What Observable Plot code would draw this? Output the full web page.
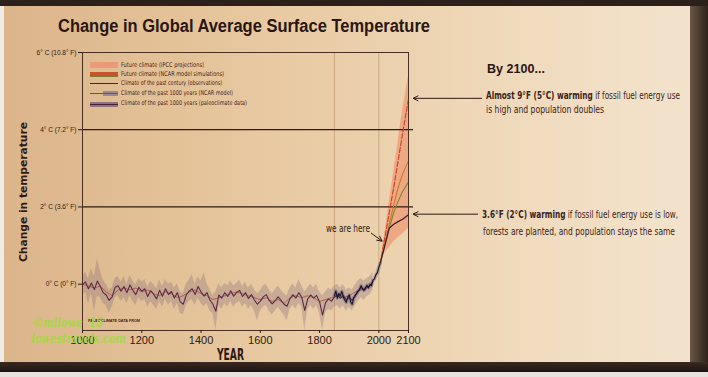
<!DOCTYPE html>
<html><head><meta charset="utf-8">
<script src="https://cdn.jsdelivr.net/npm/d3@7"></script>
<script src="https://cdn.jsdelivr.net/npm/@observablehq/plot@0.6"></script>
<style>
html,body{margin:0;padding:0;}
body{width:708px;height:377px;overflow:hidden;position:relative;background:#e8c9a2;}
.abs{position:absolute;}
#bg{left:0;top:0;width:708px;height:377px;background:linear-gradient(90deg,#dbb48a 0%,#e4c298 25%,#ebcfaa 50%,#f0dbbe 75%,#f3e2cb 95%);}
#topbar{left:0;top:0;width:708px;height:6px;background:#2c211a;}
#botbar{left:0;top:362px;width:708px;height:10px;background:linear-gradient(180deg,#3a2a20,#1c1410);}
#botlight{left:0;top:372px;width:708px;height:5px;background:#e6e2dd;}
#rightbar{left:690px;top:0;width:18px;height:377px;background:linear-gradient(90deg,#6a5646,#2e2219);}
#leftbar{left:0;top:0;width:4px;height:377px;background:#efebe6;}
</style>
</head><body>
<div id="bg" class="abs"></div>
<div id="leftbar" class="abs"></div>
<div id="rightbar" class="abs"></div>
<div id="topbar" class="abs"></div>
<div id="botbar" class="abs"></div>
<div id="botlight" class="abs"></div>
<div id="chart" class="abs" style="left:0;top:0;"></div>
<script>
// ---------- data ----------
const xTicks = [1000, 1200, 1400, 1600, 1800, 2000, 2100];
const yTicks = [0, 2, 4, 6];
const yTickLabels = ["0° C (0° F)", "2° C (3.6° F)", "4° C (7.2° F)", "6° C (10.8° F)"];
const gridYears = [1850, 2000];
const refLevels = [2, 4];

// Climate of the past 1000 years (paleoclimate data), decadal, 1000-1980
const paleoStart = 1000, paleoStep = 10;
const paleoValues = [
  -0.02, 0.06, -0.12, 0.03, -0.14, 0.08, -0.06, -0.22, -0.28, -0.42,
  -0.33, -0.08, -0.04, -0.18, -0.06, -0.22, -0.02, -0.16, -0.27, -0.08,
  -0.18, -0.12, -0.32, -0.17, -0.26, -0.38, -0.16, -0.31, -0.12, -0.27,
  -0.19, -0.36, -0.22, -0.46, -0.52, -0.28, -0.18, -0.12, -0.27, -0.06,
  -0.20, -0.31, -0.22, -0.41, -0.52, -0.70, -0.28, -0.36, -0.22, -0.32,
  -0.17, -0.31, -0.22, -0.16, -0.32, -0.22, -0.37, -0.27, -0.41, -0.52,
  -0.44, -0.33, -0.27, -0.42, -0.51, -0.43, -0.33, -0.42, -0.52, -0.57,
  -0.38, -0.27, -0.36, -0.22, -0.34, -0.68, -0.38, -0.28, -0.36, -0.29,
  -0.46, -0.80, -0.48, -0.38, -0.44, -0.33, -0.28, -0.37, -0.29, -0.41,
  -0.34, -0.42, -0.29, -0.18, -0.09, -0.16, -0.08, -0.04, 0.07
];
const paleoLow = [
  -0.30, -0.20, -0.50, -0.25, -0.70, -0.30, -0.35, -0.50, -0.55, -0.75,
  -0.60, -0.35, -0.30, -0.45, -0.35, -0.50, -0.30, -0.45, -0.55, -0.35,
  -0.45, -0.40, -0.60, -0.45, -0.55, -0.65, -0.45, -0.60, -0.40, -0.55,
  -0.45, -0.65, -0.50, -0.75, -0.80, -0.55, -0.45, -0.40, -0.55, -0.35,
  -0.50, -0.60, -0.50, -0.70, -0.75, -1.20, -0.55, -0.65, -0.50, -0.60,
  -0.45, -0.60, -0.50, -0.45, -0.60, -0.50, -0.65, -0.55, -0.70, -0.95,
  -0.70, -0.60, -0.55, -0.70, -0.80, -0.70, -0.60, -0.70, -0.80, -0.95,
  -0.65, -0.55, -0.65, -0.50, -0.60, -1.20, -0.65, -0.55, -0.65, -0.55,
  -0.75, -1.20, -0.75, -0.65, -0.70, -0.60, -0.55, -0.65, -0.55, -0.70,
  -0.60, -0.70, -0.55, -0.45, -0.35, -0.42, -0.32, -0.28, -0.15
];
const paleoHigh = [
  0.20, 0.30, 0.15, 0.40, 0.20, 0.65, 0.35, 0.10, 0.00, -0.15,
  -0.10, 0.15, 0.20, 0.05, 0.20, 0.00, 0.22, 0.08, -0.02, 0.15,
  0.05, 0.12, -0.08, 0.06, 0.00, -0.12, 0.10, -0.06, 0.12, 0.00,
  0.05, -0.10, 0.02, -0.20, -0.25, 0.00, 0.10, 0.25, 0.00, 0.20,
  0.08, 0.30, 0.02, -0.15, -0.30, -0.20, 0.00, -0.10, 0.02, -0.05,
  0.08, -0.05, 0.02, 0.10, -0.06, 0.05, -0.10, 0.00, -0.15, -0.25,
  -0.18, -0.05, 0.00, -0.15, -0.25, -0.15, -0.05, -0.15, -0.25, -0.30,
  -0.10, 0.00, -0.10, 0.12, -0.05, -0.20, -0.10, 0.00, -0.10, 0.00,
  -0.20, -0.30, -0.20, -0.10, -0.15, -0.05, 0.00, -0.10, 0.00, -0.15,
  -0.10, -0.15, -0.02, 0.08, 0.15, 0.08, 0.15, 0.20, 0.30
];

// Climate of the past 1000 years (NCAR model), 20-year, 1000-1980
const ncarStart = 1000, ncarStep = 20;
const ncarModel = [
  0.00, -0.05, -0.10, -0.05, -0.20, -0.30, -0.15, -0.10, -0.15, -0.10,
  -0.20, -0.15, -0.25, -0.30, -0.20, -0.25, -0.35, -0.30, -0.20, -0.15,
  -0.25, -0.30, -0.40, -0.35, -0.30, -0.25, -0.20, -0.25, -0.30, -0.35,
  -0.40, -0.35, -0.45, -0.40, -0.50, -0.35, -0.30, -0.35, -0.30, -0.35,
  -0.45, -0.40, -0.35, -0.30, -0.35, -0.30, -0.20, -0.15, -0.10, 0.05
];

// Climate of the past century (observations), 5-year, 1850-2005
const obsStart = 1850, obsStep = 5;
const observations = [
  -0.30, -0.18, -0.36, -0.24, -0.31, -0.19, -0.33, -0.41, -0.47, -0.34,
  -0.28, -0.46, -0.52, -0.36, -0.30, -0.24, -0.18, -0.14, -0.04, -0.11,
  -0.16, -0.09, -0.03, -0.10, 0.00, -0.04, 0.10, 0.14, 0.24, 0.30,
  0.44, 0.55
];

// Future climate, 2005-2100
const projYears = [2005, 2020, 2035, 2050, 2065, 2080, 2100];
const ipccLow  = [0.55, 0.80, 0.95, 1.10, 1.20, 1.30, 1.45];
const ipccHigh = [0.55, 1.30, 2.10, 2.90, 3.70, 4.50, 5.40];
const ncarHigh = [0.55, 1.20, 1.85, 2.50, 3.20, 3.90, 4.80];
const ncarMid  = [0.55, 1.05, 1.55, 2.05, 2.50, 2.85, 3.20];
const ncarMidLow = [0.55, 1.00, 1.45, 1.85, 2.15, 2.40, 2.65];
const ncarLow  = [0.55, 1.00, 1.45, 1.55, 1.62, 1.68, 1.80];

// ---------- tables ----------
const paleo = paleoValues.map((v, i) => ({year: paleoStart + i * paleoStep, v, lo: paleoLow[i], hi: paleoHigh[i]}));
const ncar = ncarModel.map((v, i) => ({year: ncarStart + i * ncarStep, v}));
const obs = observations.map((v, i) => ({year: obsStart + i * obsStep, v}));
const proj = projYears.map((year, i) => ({year, lo: ipccLow[i], hi: ipccHigh[i], high: ncarHigh[i], mid: ncarMid[i], midlow: ncarMidLow[i], low: ncarLow[i]}));

const SANS = "'Liberation Sans', Arial, Helvetica, sans-serif";
const NARROW = "'Liberation Sans Narrow','DejaVu Sans Condensed','Liberation Sans',sans-serif";
const INK = "#2e1a12";

const plot = Plot.plot({
  width: 708, height: 377,
  marginLeft: 82, marginRight: 300, marginTop: 52, marginBottom: 47,
  style: {background: "transparent", color: INK, fontFamily: SANS, overflow: "visible"},
  x: {domain: [1000, 2100]},
  y: {domain: [-1.2, 6]},
  marks: [
    Plot.ruleX(gridYears, {stroke: "#c9a47a", strokeWidth: 0.9}),
    Plot.areaY(proj, {x: "year", y1: "lo", y2: "hi", fill: "#ee8560", fillOpacity: 0.55}),
    Plot.areaY(paleo, {x: "year", y1: "lo", y2: "hi", fill: "#8a6e78", fillOpacity: 0.33}),
    Plot.ruleY(refLevels, {x1: 1000, x2: 2117, stroke: INK, strokeWidth: 1.3}),
    Plot.line(ncar, {x: "year", y: "v", stroke: "#a8443a", strokeWidth: 0.9, strokeOpacity: 0.8}),
    Plot.line(paleo, {x: "year", y: "v", stroke: "#5a2a4a", strokeWidth: 1.1}),
    Plot.line(obs, {x: "year", y: "v", stroke: "#3c3c78", strokeWidth: 3.5, strokeOpacity: 0.35}),
    Plot.line(obs, {x: "year", y: "v", stroke: "#1a1424", strokeWidth: 1.1}),
    Plot.line(proj, {x: "year", y: "high", stroke: "#d63a1c", strokeWidth: 1.1, strokeDasharray: "5,2"}),
    Plot.line(proj, {x: "year", y: "mid", stroke: "#d0782a", strokeWidth: 1.1}),
    Plot.line(proj, {x: "year", y: "midlow", stroke: "#7c8a2c", strokeWidth: 1.1}),
    Plot.line(proj, {x: "year", y: "low", stroke: "#3a1c2c", strokeWidth: 1.2}),
    Plot.frame({stroke: "#4a2e22", strokeWidth: 1}),
    Plot.axisY({ticks: yTicks, tickFormat: (d) => yTickLabels[yTicks.indexOf(d)], tickSize: 4, tickPadding: 2, fontSize: 6.5, label: null}),
    Plot.axisX({ticks: xTicks, tickFormat: (d) => String(d), tickSize: 3, tickPadding: 3, fontSize: 11, label: null})
  ]
});
document.getElementById("chart").appendChild(plot);
const sx = plot.scale("x"), sy = plot.scale("y");

// ---------- text helpers ----------
function place(parts, {x, base, w, size, family = SANS, color = INK, weight = 400, style = "normal"}) {
  const d = document.createElement("div");
  d.className = "abs";
  d.style.cssText += `white-space:nowrap;line-height:1;font-size:${size}px;font-family:${family};color:${color};font-weight:${weight};font-style:${style};left:${x}px;top:${base - 0.85 * size}px;transform-origin:0 0;`;
  if (typeof parts === "string") d.textContent = parts;
  else parts.forEach(([t, b]) => { const s = document.createElement("span"); s.textContent = t; if (b) s.style.fontWeight = 700; d.appendChild(s); });
  document.body.appendChild(d);
  if (w) { const r = d.getBoundingClientRect().width; d.style.transform = `scaleX(${w / r})`; }
  return d;
}

// Title
place("Change in Global Average Surface Temperature", {x: 58, base: 33, w: 372, size: 17.5, weight: 700, color: "#2a1610"});

// Y axis title (rotated)
(function () {
  const d = document.createElement("div");
  d.className = "abs";
  d.textContent = "Change in temperature";
  d.style.cssText += `white-space:nowrap;line-height:1;font-size:10px;font-weight:700;font-family:${NARROW};color:${INK};left:0;top:0;transform-origin:0 0;`;
  document.body.appendChild(d);
  const r = d.getBoundingClientRect().width;
  d.style.transform = `translate(19px, 262px) rotate(-90deg) scaleX(${140 / r})`;
})();

// X axis title
place("YEAR", {x: 217, base: 361, w: 27, size: 15, weight: 700, family: NARROW});

// Legend
const legendItems = [
  ["Future climate (IPCC projections)", 65, 83],
  ["Future climate (NCAR model simulations)", 74.3, 103],
  ["Climate of the past century (observations)", 83.7, 101],
  ["Climate of the past 1000 years (NCAR model)", 93.2, 112],
  ["Climate of the past 1000 years (paleoclimate data)", 103, 126]
];
legendItems.forEach(([t, c, w]) => place(t, {x: 121, base: c + 2.3, w, size: 6.5, family: NARROW, color: "#4a2418"}));
function box(x, y, w, h, bg) { const d = document.createElement("div"); d.className = "abs"; d.style.cssText += `left:${x}px;top:${y}px;width:${w}px;height:${h}px;background:${bg};`; document.body.appendChild(d); }
box(90, 61.7, 28, 6.6, "#eb9a78");
box(90, 71.5, 28, 3, "#c9542c");
box(90, 74.5, 28, 2.5, "#7a7a2e");
box(90, 83.2, 28, 1, "#5a2018");
box(103, 90.7, 15, 5.3, "#9a8a96");
box(90, 92.8, 28, 1, "#b03a2a");
box(90, 101.8, 28, 5, "#8e727e");
box(90, 103.8, 28, 1, "#4a2038");

// Small credit inside plot
place("PALEOCLIMATE DATA FROM", {x: 88, base: 322, w: 52, size: 4, weight: 700, color: "#3a2418"});

// Annotation texts
place("we are here", {x: 326, base: 232, w: 44, size: 10, family: NARROW, color: INK});
place("By 2100...", {x: 487, base: 73, w: 58, size: 13.5, weight: 700, color: "#2a1610"});
place([["Almost 9°F (5°C) warming", true], [" if fossil fuel energy use", false]], {x: 486, base: 100, w: 194, size: 10.7, family: NARROW, color: "#3a2218"});
place("is high and population doubles", {x: 486, base: 114, w: 118, size: 10.7, family: NARROW, color: "#3a2218"});
place([["3.6°F (2°C) warming", true], [" if fossil fuel energy use is low,", false]], {x: 482, base: 218.3, w: 196, size: 10.5, family: NARROW, color: "#3a2218"});
place("forests are planted, and population stays the same", {x: 482.5, base: 235, w: 192, size: 10.5, family: NARROW, color: "#3a2218"});

// Watermark
place("©mllowe '15", {x: 33, base: 327, w: 70, size: 13, weight: 700, style: "italic", family: "'DejaVu Serif', serif", color: "#a6d64a"});
place("lowestravels.com", {x: 31, base: 343, w: 95, size: 12, weight: 700, style: "italic", family: "'DejaVu Serif', serif", color: "#a6d64a"});

// Arrows overlay
const ns = "http://www.w3.org/2000/svg";
const ov = document.createElementNS(ns, "svg");
ov.setAttribute("width", 708); ov.setAttribute("height", 377);
ov.style.cssText = "position:absolute;left:0;top:0;overflow:visible";
document.body.appendChild(ov);
function arrow(x1, y1, x2, y2) {
  const a = Math.atan2(y2 - y1, x2 - x1), L = 6, s = 0.45;
  const p = document.createElementNS(ns, "path");
  const hx1 = x2 - L * Math.cos(a - s), hy1 = y2 - L * Math.sin(a - s);
  const hx2 = x2 - L * Math.cos(a + s), hy2 = y2 - L * Math.sin(a + s);
  p.setAttribute("d", `M${x1},${y1}L${x2},${y2}M${hx1},${hy1}L${x2},${y2}L${hx2},${hy2}`);
  p.setAttribute("stroke", INK); p.setAttribute("stroke-width", 1); p.setAttribute("fill", "none");
  ov.appendChild(p);
}
const endX = sx.apply(2100);
const yHigh = sy.apply(ncarHigh[ncarHigh.length - 1]);
const yLow = sy.apply(ncarLow[ncarLow.length - 1]);
arrow(482, yHigh, endX + 5, yHigh);
arrow(478, yLow, endX + 5, yLow);
arrow(371, 233, sx.apply(2013), sy.apply(1.1));
</script>
</body></html>
